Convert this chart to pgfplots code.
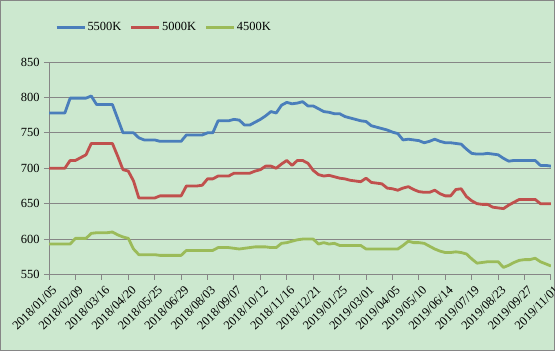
\documentclass[border=0pt]{standalone}
\usepackage{fontspec}
\setmainfont{Liberation Serif}
\usepackage{pgfplots}
\pgfplotsset{compat=1.18}
\usepackage{pgfplotstable}
\definecolor{bgc}{RGB}{204,232,207}
\definecolor{bordc}{RGB}{134,134,134}
\definecolor{c55}{RGB}{74,126,187}
\definecolor{c50}{RGB}{192,80,77}
\definecolor{c45}{RGB}{155,187,89}
\pgfplotstableread{
i b r g
0 778 700 593
1 778 700 593
2 778 700 593
3 778 700 593
4 799 711 593
5 799 711 601
6 799 715 601
7 799 719 601
8 802 735 608
9 790 735 609
10 790 735 609
11 790 735 609
12 790 735 610
13 770 717 606
14 750 698 603
15 750 696 601
16 750 682 586
17 743 658 578
18 740 658 578
19 740 658 578
20 740 658 578
21 738 661 577
22 738 661 577
23 738 661 577
24 738 661 577
25 738 661 577
26 747 675 584
27 747 675 584
28 747 675 584
29 747 676 584
30 750 685 584
31 750 685 584
32 767 689 588
33 767 689 588
34 767 689 588
35 769 693 587
36 768 693 586
37 761 693 587
38 761 693 588
39 765 696 589
40 769 698 589
41 774 703 589
42 780 703 588
43 778 700 588
44 789 706 594
45 793 711 595
46 791 704 597
47 792 711 599
48 794 711 600
49 788 707 600
50 788 697 600
51 784 691 593
52 780 689 595
53 779 690 593
54 777 688 594
55 777 686 591
56 773 685 591
57 771 683 591
58 769 682 591
59 767 681 591
60 766 686 586
61 760 680 586
62 758 679 586
63 756 678 586
64 754 672 586
65 751 671 586
66 749 669 586
67 740 672 591
68 741 674 597
69 740 670 595
70 739 667 595
71 736 666 594
72 738 666 590
73 741 669 586
74 738 664 583
75 736 661 581
76 736 661 581
77 735 670 582
78 734 671 581
79 727 660 579
80 721 654 572
81 720 650 566
82 720 649 567
83 721 649 568
84 720 645 568
85 719 644 568
86 714 643 560
87 710 648 563
88 711 652 567
89 711 656 570
90 711 656 571
91 711 656 571
92 711 656 573
93 704 650 568
94 704 650 565
95 703 650 562
}\datatable
\begin{document}
\fontsize{12.5}{15}\selectfont
\begin{tikzpicture}
\useasboundingbox (-49bp,-76.5bp) rectangle (506bp,274.5bp);
\fill[bgc] (-49bp,-76.5bp) rectangle (506bp,274.5bp);
\draw[bordc, line width=1bp] (-48.5bp,-76bp) rectangle (505.5bp,274bp);
\begin{axis}[
  at={(0,0)}, anchor=south west,
  scale only axis, width=502bp, height=212.5bp,
  xmin=0, xmax=95, ymin=550, ymax=850,
  axis lines=left, axis line style={bordc, line width=1bp, -},
  ytick={550,600,650,700,750,800,850},
  xtick={0,5,...,95},
  xticklabels={2018/01/05,2018/02/09,2018/03/16,2018/04/20,2018/05/25,2018/06/29,2018/08/03,2018/09/07,2018/10/12,2018/11/16,2018/12/21,2019/01/25,2019/03/01,2019/04/05,2019/05/10,2019/06/14,2019/07/19,2019/08/23,2019/09/27,2019/11/01},
  tick align=outside, tick pos=left,
  major tick length=5bp,
  tick style={bordc, line width=1bp},
  ymajorgrids, grid style={bordc, line width=1bp},
  /pgf/number format/assume math mode=true,
  yticklabel style={font=\fontsize{12.5}{15}\selectfont},
  xticklabel style={font=\fontsize{12.5}{15}\selectfont, xshift=6bp, yshift=-8bp, rotate=45, anchor=east, inner sep=0.5bp},
  legend columns=3,
  legend style={at={(0.012,1.163)}, anchor=west, draw=none, fill=none,
    inner sep=0pt, font=\fontsize{12.5}{15}\selectfont,
    nodes={inner sep=1.5bp},
    /tikz/every even column/.append style={column sep=7bp}},
  legend image code/.code={\draw[#1, line width=2.8bp] (0bp,0bp) -- (28bp,0bp);},
  every axis plot/.append style={line width=2.8bp, line join=round},
]
\addplot[c55, no markers] table[x=i, y=b] {\datatable};
\addlegendentry{5500K}
\addplot[c50, no markers] table[x=i, y=r] {\datatable};
\addlegendentry{5000K}
\addplot[c45, no markers] table[x=i, y=g] {\datatable};
\addlegendentry{4500K}
\end{axis}
\end{tikzpicture}
\end{document}
